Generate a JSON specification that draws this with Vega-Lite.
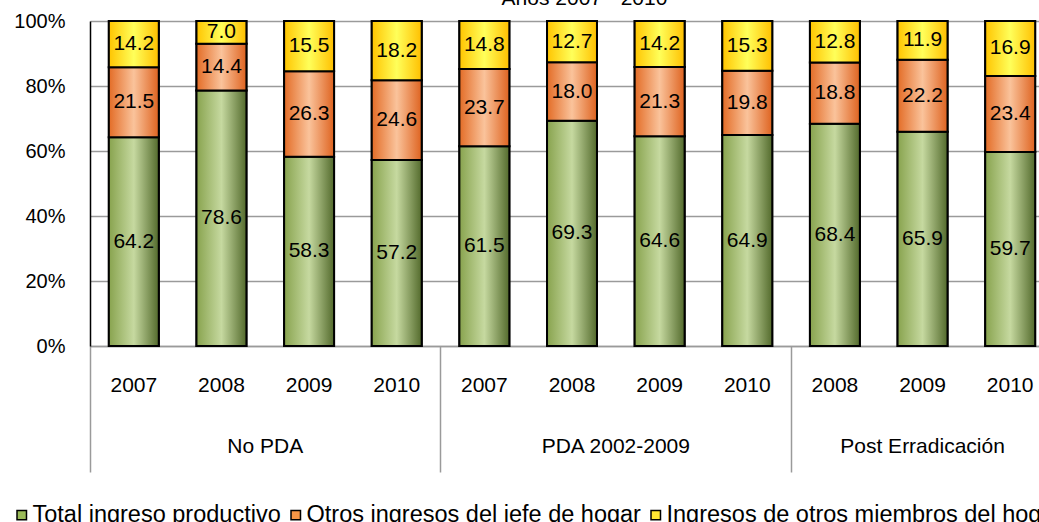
{
  "$schema": "https://vega.github.io/schema/vega-lite/v6.json",
  "width": 949,
  "height": 325,
  "autosize": {"type": "none"},
  "padding": {"left": 90, "top": 21, "right": 0, "bottom": 176},
  "background": "white",
  "title": {"text": "Años 2007 - 2010", "fontSize": 21, "font": "Liberation Sans", "fontWeight": "normal", "color": "black", "dx": 20, "offset": 2},
  "config": {
    "view": {"stroke": null},
    "font": "Liberation Sans"
  },
  "data": {"values": [
    {"key": "No PDA|2007", "s": "Total ingreso productivo", "o": 1, "v": 64.2},
    {"key": "No PDA|2007", "s": "Otros ingresos del jefe de hogar", "o": 2, "v": 21.5},
    {"key": "No PDA|2007", "s": "Ingresos de otros miembros del hogar", "o": 3, "v": 14.2},
    {"key": "No PDA|2008", "s": "Total ingreso productivo", "o": 1, "v": 78.6},
    {"key": "No PDA|2008", "s": "Otros ingresos del jefe de hogar", "o": 2, "v": 14.4},
    {"key": "No PDA|2008", "s": "Ingresos de otros miembros del hogar", "o": 3, "v": 7.0},
    {"key": "No PDA|2009", "s": "Total ingreso productivo", "o": 1, "v": 58.3},
    {"key": "No PDA|2009", "s": "Otros ingresos del jefe de hogar", "o": 2, "v": 26.3},
    {"key": "No PDA|2009", "s": "Ingresos de otros miembros del hogar", "o": 3, "v": 15.5},
    {"key": "No PDA|2010", "s": "Total ingreso productivo", "o": 1, "v": 57.2},
    {"key": "No PDA|2010", "s": "Otros ingresos del jefe de hogar", "o": 2, "v": 24.6},
    {"key": "No PDA|2010", "s": "Ingresos de otros miembros del hogar", "o": 3, "v": 18.2},
    {"key": "PDA 2002-2009|2007", "s": "Total ingreso productivo", "o": 1, "v": 61.5},
    {"key": "PDA 2002-2009|2007", "s": "Otros ingresos del jefe de hogar", "o": 2, "v": 23.7},
    {"key": "PDA 2002-2009|2007", "s": "Ingresos de otros miembros del hogar", "o": 3, "v": 14.8},
    {"key": "PDA 2002-2009|2008", "s": "Total ingreso productivo", "o": 1, "v": 69.3},
    {"key": "PDA 2002-2009|2008", "s": "Otros ingresos del jefe de hogar", "o": 2, "v": 18.0},
    {"key": "PDA 2002-2009|2008", "s": "Ingresos de otros miembros del hogar", "o": 3, "v": 12.7},
    {"key": "PDA 2002-2009|2009", "s": "Total ingreso productivo", "o": 1, "v": 64.6},
    {"key": "PDA 2002-2009|2009", "s": "Otros ingresos del jefe de hogar", "o": 2, "v": 21.3},
    {"key": "PDA 2002-2009|2009", "s": "Ingresos de otros miembros del hogar", "o": 3, "v": 14.2},
    {"key": "PDA 2002-2009|2010", "s": "Total ingreso productivo", "o": 1, "v": 64.9},
    {"key": "PDA 2002-2009|2010", "s": "Otros ingresos del jefe de hogar", "o": 2, "v": 19.8},
    {"key": "PDA 2002-2009|2010", "s": "Ingresos de otros miembros del hogar", "o": 3, "v": 15.3},
    {"key": "Post Erradicación|2008", "s": "Total ingreso productivo", "o": 1, "v": 68.4},
    {"key": "Post Erradicación|2008", "s": "Otros ingresos del jefe de hogar", "o": 2, "v": 18.8},
    {"key": "Post Erradicación|2008", "s": "Ingresos de otros miembros del hogar", "o": 3, "v": 12.8},
    {"key": "Post Erradicación|2009", "s": "Total ingreso productivo", "o": 1, "v": 65.9},
    {"key": "Post Erradicación|2009", "s": "Otros ingresos del jefe de hogar", "o": 2, "v": 22.2},
    {"key": "Post Erradicación|2009", "s": "Ingresos de otros miembros del hogar", "o": 3, "v": 11.9},
    {"key": "Post Erradicación|2010", "s": "Total ingreso productivo", "o": 1, "v": 59.7},
    {"key": "Post Erradicación|2010", "s": "Otros ingresos del jefe de hogar", "o": 2, "v": 23.4},
    {"key": "Post Erradicación|2010", "s": "Ingresos de otros miembros del hogar", "o": 3, "v": 16.9}
  ]},
  "transform": [
    {"stack": "v", "groupby": ["key"], "sort": [{"field": "o", "order": "ascending"}], "offset": "normalize", "as": ["y0", "y1"]}
  ],
  "layer": [
    {
      "mark": {"type": "bar", "width": {"band": 0.57}, "stroke": "black", "strokeWidth": 2},
      "encoding": {
        "x": {"field": "key", "type": "nominal", "sort": null,
              "scale": {"range": [0, 964], "paddingInner": 0, "paddingOuter": 0},
              "axis": {"orient": "bottom", "title": null, "labelExpr": "split(datum.value, '|')[1]", "labelAngle": 0, "labelFontSize": 21, "labelColor": "black", "labelFont": "Liberation Sans", "labelPadding": 28, "ticks": false, "domain": true, "domainColor": "#9a9a9a", "domainWidth": 1.5, "grid": false}},
        "y": {"field": "y0", "type": "quantitative", "scale": {"domain": [0, 1]},
              "axis": {"format": "%", "values": [0, 0.2, 0.4, 0.6, 0.8, 1], "grid": true, "gridColor": "#9a9a9a", "gridWidth": 1.5, "domain": true, "domainColor": "black", "domainWidth": 1.5, "ticks": false, "labelPadding": 25, "labelFontSize": 20, "labelColor": "black", "title": null, "labelFont": "Liberation Sans"}},
        "y2": {"field": "y1"},
        "color": {"field": "s", "type": "nominal", "sort": null,
          "scale": {
            "domain": ["Total ingreso productivo", "Otros ingresos del jefe de hogar", "Ingresos de otros miembros del hogar"],
            "range": ["#9bbb59", "#f79646", "#ffe533"]
          },
          "legend": {"orient": "none", "legendX": -80, "legendY": 482, "direction": "horizontal", "title": null, "symbolType": "square", "symbolSize": 90, "symbolStrokeColor": "black", "symbolStrokeWidth": 1.5, "labelFontSize": 23.5, "labelColor": "black", "labelFont": "Liberation Sans", "labelLimit": 1000, "columnPadding": 3, "labelOffset": -1, "padding": 0}
        }
      }
    },
    {
      "transform": [{"filter": "datum.o == 1"}],
      "mark": {"type": "bar", "width": {"band": 0.57}, "stroke": "black", "strokeWidth": 2,
        "fill": {"gradient": "linear", "x1": 0, "y1": 0, "x2": 1, "y2": 0, "stops": [{"offset": 0, "color": "#88a34e"}, {"offset": 0.5, "color": "#c6d9a0"}, {"offset": 1, "color": "#536a2c"}]}},
      "encoding": {
        "x": {"field": "key", "type": "nominal", "sort": null, "axis": null},
        "y": {"field": "y0", "type": "quantitative"},
        "y2": {"field": "y1"}
      }
    },
    {
      "transform": [{"filter": "datum.o == 2"}],
      "mark": {"type": "bar", "width": {"band": 0.57}, "stroke": "black", "strokeWidth": 2,
        "fill": {"gradient": "linear", "x1": 0, "y1": 0, "x2": 1, "y2": 0, "stops": [{"offset": 0, "color": "#e36c26"}, {"offset": 0.5, "color": "#fac39b"}, {"offset": 1, "color": "#de6320"}]}},
      "encoding": {
        "x": {"field": "key", "type": "nominal", "sort": null, "axis": null},
        "y": {"field": "y0", "type": "quantitative"},
        "y2": {"field": "y1"}
      }
    },
    {
      "transform": [{"filter": "datum.o == 3"}],
      "mark": {"type": "bar", "width": {"band": 0.57}, "stroke": "black", "strokeWidth": 2,
        "fill": {"gradient": "linear", "x1": 0, "y1": 0, "x2": 1, "y2": 0, "stops": [{"offset": 0, "color": "#ffc400"}, {"offset": 0.5, "color": "#ffff5a"}, {"offset": 1, "color": "#ffbf00"}]}},
      "encoding": {
        "x": {"field": "key", "type": "nominal", "sort": null, "axis": null},
        "y": {"field": "y0", "type": "quantitative"},
        "y2": {"field": "y1"}
      }
    },
    {
      "mark": {"type": "text", "fontSize": 21, "color": "black", "font": "Liberation Sans"},
      "encoding": {
        "x": {"field": "key", "type": "nominal", "sort": null,
              "axis": {"orient": "bottom", "title": null, "bandPosition": 0, "labelAngle": 0,
                "labelExpr": "datum.value == 'No PDA|2009' ? 'No PDA' : datum.value == 'PDA 2002-2009|2009' ? 'PDA 2002-2009' : datum.value == 'Post Erradicación|2009' ? 'Post Erradicación' : ''",
                "labelOffset": {"condition": {"test": "datum.value == 'Post Erradicación|2009'", "value": 0}, "value": -43.8},
                "labelFontSize": 21, "labelColor": "black", "labelFont": "Liberation Sans", "labelPadding": -37, "labelOverlap": false, "labelBound": false, "labelFlush": false,
                "ticks": true, "tickSize": 126, "tickColor": "#9a9a9a", "tickWidth": 1.5,
                "tickOpacity": {"condition": {"test": "datum.value == 'No PDA|2007' || datum.value == 'PDA 2002-2009|2007' || datum.value == 'Post Erradicación|2008'", "value": 1}, "value": 0},
                "domain": false, "grid": false}},
        "y": {"field": "v", "type": "quantitative", "stack": "normalize", "bandPosition": 0.5},
        "detail": {"field": "s"},
        "order": {"field": "o", "type": "quantitative"},
        "text": {"field": "v", "type": "quantitative", "format": ".1f"}
      }
    }
  ],
  "resolve": {"axis": {"x": "independent"}}
}
